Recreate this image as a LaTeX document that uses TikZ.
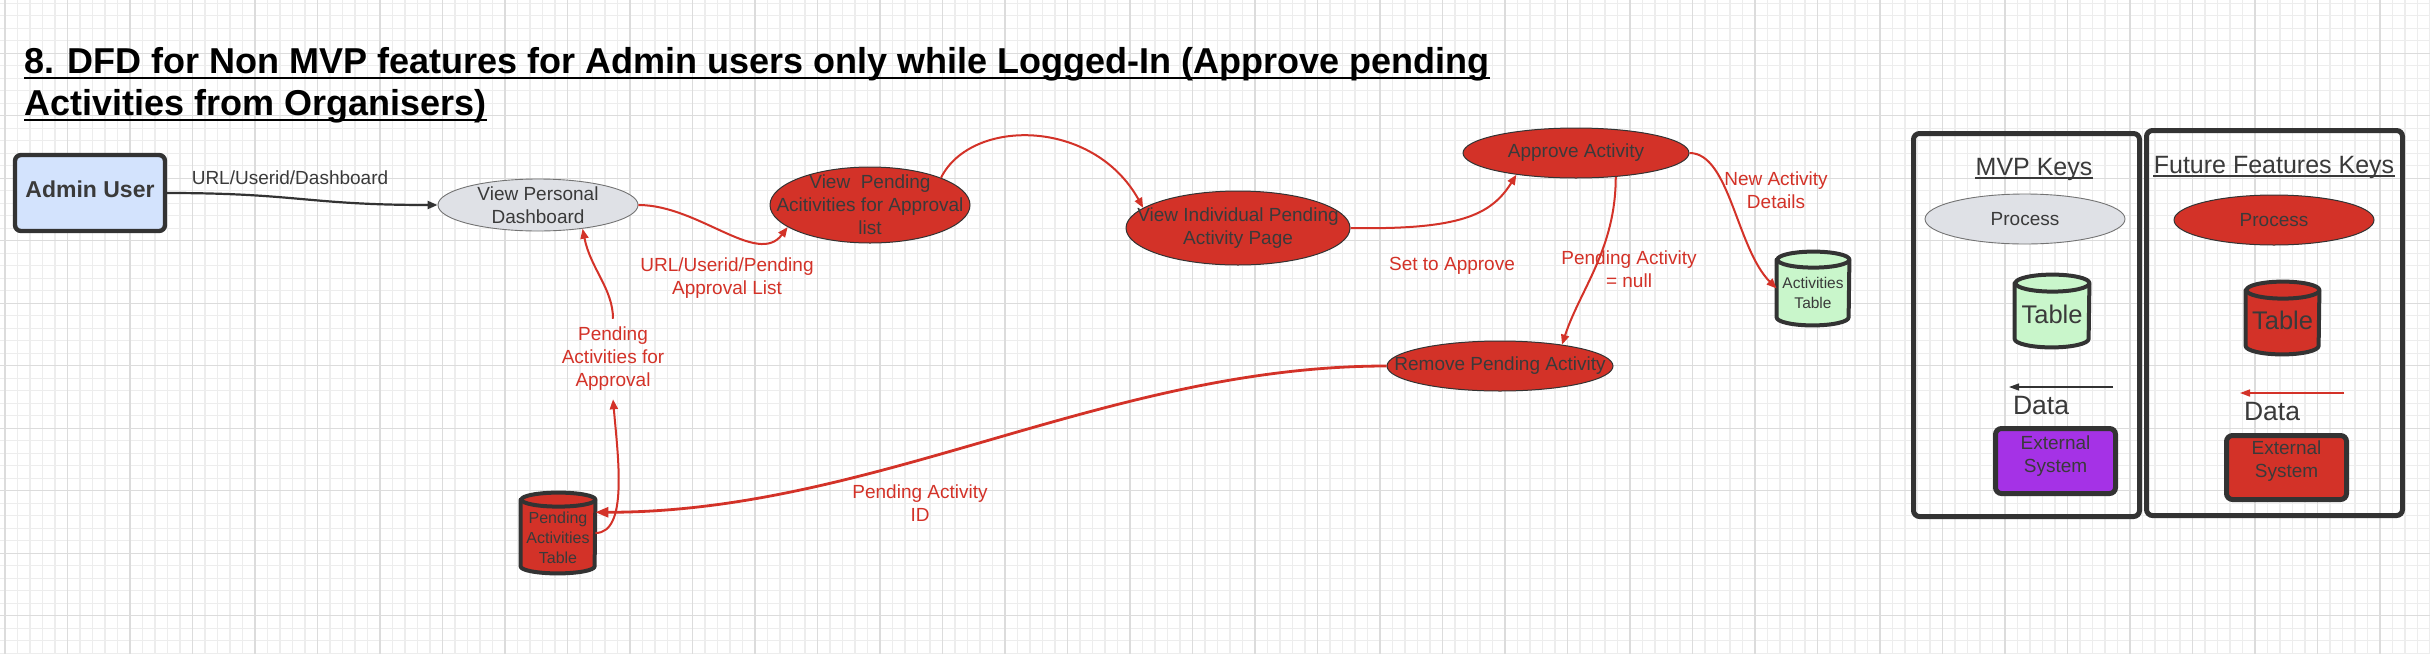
\documentclass[tikz,border=0pt]{standalone}
\usepackage{fontspec}
\setmainfont{Liberation Sans}
\usetikzlibrary{shapes.geometric,arrows.meta}
\definecolor{cRed}{HTML}{D33228}
\definecolor{cGray}{HTML}{DFE1E6}
\definecolor{cGreen}{HTML}{C9F6CB}
\definecolor{cBlue}{HTML}{D3E3FD}
\definecolor{cPurple}{HTML}{A532E6}
\definecolor{cDark}{HTML}{333333}
\definecolor{cText}{HTML}{3A3A3A}
\definecolor{gMinor}{HTML}{EDEDED}
\definecolor{gMajor}{HTML}{DCDCDC}
\newcommand\mycyl[4]{%
  \path[fill=#2,draw=cDark,line width=2pt,line join=round]
    ([yshift=-#4]#1.north west) -- ([yshift=#4]#1.south west)
    arc[start angle=180,end angle=360,x radius=#3,y radius=#4]
    -- ([yshift=-#4]#1.north east)
    arc[start angle=0,end angle=180,x radius=#3,y radius=#4] -- cycle;
  \draw[draw=cDark,line width=2pt]
    ([yshift=-#4]#1.north east)
    arc[start angle=0,end angle=-180,x radius=#3,y radius=#4];
}
\begin{document}
\begin{tikzpicture}[x=0.5pt,y=-0.5pt,
  f19/.style={font=\fontsize{9.5}{11.5}\selectfont},
  ptext/.style={f19,text=cText,align=center,inner sep=0pt},
  rlabel/.style={f19,text=cRed,align=center,inner sep=0pt},
  proc/.style={ellipse,inner sep=0pt,draw=cDark,line width=0.5pt},
  redproc/.style={proc,fill=cRed},
  grayproc/.style={proc,fill=cGray,draw=black!55,line width=0.45pt},
  tablebox/.style={rectangle,draw=none,inner sep=0pt},
  extbox/.style={rectangle,draw=cDark,line width=2.5pt,rounded corners=3pt,inner sep=0pt},
  keybox/.style={rectangle,draw=cDark,line width=2.5pt,rounded corners=3pt,inner sep=0pt},
  redflow/.style={draw=cRed,line width=1pt,-{Triangle[length=5pt,width=4pt]}},
  redthick/.style={draw=cRed,line width=1.4pt,-{Triangle[length=6.5pt,width=5pt]}},
  darkflow/.style={draw=cDark,line width=1.1pt,-{Triangle[length=5pt,width=4pt]}},
  keytitle/.style={anchor=base,inner sep=0pt,text=cText,font=\fontsize{12.5}{15}\selectfont},
  datatext/.style={anchor=base,inner sep=0pt,text=cText,font=\fontsize{13.25}{16}\selectfont},
  titletext/.style={anchor=base west,inner sep=0pt,font=\fontsize{18}{21}\selectfont\bfseries}
]
% background and grid
\fill[white] (0,0) rectangle (2430,654);
\useasboundingbox (0,0) rectangle (2430,654);
\begin{scope}
\clip (0,0) rectangle (2430,654);
\foreach \i in {0,...,194} \draw[gMinor,line width=0.6pt] ({5+12.5*\i},0) -- ({5+12.5*\i},654);
\foreach \j in {0,...,52} \draw[gMinor,line width=0.6pt] (0,{3.2+12.5*\j}) -- (2430,{3.2+12.5*\j});
\foreach \i in {0,...,38} \draw[gMajor,line width=0.7pt] ({5+62.5*\i},0) -- ({5+62.5*\i},654);
\foreach \j in {0,...,9} \draw[gMajor,line width=0.7pt] (0,{53.2+62.5*\j}) -- (2430,{53.2+62.5*\j});
\end{scope}

% title
\node[titletext] (t1) at (24,73) {8. DFD for Non MVP features for Admin users only while Logged-In (Approve pending};
\node[titletext] (t2) at (24,115) {Activities from Organisers)};
\draw[line width=1.3pt] ([yshift=-2.4pt]t1.base west) -- ([yshift=-2.4pt]t1.base east);
\draw[line width=1.3pt] ([yshift=-2.4pt]t2.base west) -- ([yshift=-2.4pt]t2.base east);

% main nodes
\node[rectangle,draw=cDark,fill=cBlue,line width=2.2pt,rounded corners=3pt,minimum width=75pt,minimum height=38pt,inner sep=0pt,
  label={[inner sep=0pt,text=cText,font=\fontsize{11.5}{13}\selectfont\bfseries,yshift=2pt]center:Admin User}] (admin) at (90,193) {};
\node[grayproc,minimum width=100pt,minimum height=26pt,label={[ptext]center:View Personal\\Dashboard}] (vpd) at (538,205) {};
\node[redproc,minimum width=100pt,minimum height=38pt,label={[ptext]center:View\ \ Pending\\Acitivities for Approval\\list}] (vp) at (870,205) {};
\node[redproc,minimum width=112pt,minimum height=37pt,label={[ptext]center:View Individual Pending\\Activity Page}] (vi) at (1238,228) {};
\node[redproc,minimum width=113pt,minimum height=25pt,label={[ptext]center:Approve Activity}] (aa) at (1576,153) {};
\node[redproc,minimum width=113pt,minimum height=25pt,label={[ptext]center:Remove Pending Activity}] (rp) at (1500,366) {};

\node[tablebox,minimum width=37pt,minimum height=40pt] (pat) at (558,533) {};
\mycyl{pat}{cRed}{18.5pt}{3.5pt}
\node[ptext,font=\fontsize{8}{10}\selectfont] (patt) at ([yshift=-2.5pt]pat.center) {Pending\\Activities\\Table};

\node[tablebox,minimum width=36pt,minimum height=36.5pt] (acttab) at (1813,288.5) {};
\mycyl{acttab}{cGreen}{18pt}{4pt}
\node[ptext,font=\fontsize{7.75}{10}\selectfont] (acttabt) at ([yshift=-2.25pt]acttab.center) {Activities\\Table};

% flow labels
\node[ptext] (l1) at (290,178) {URL/Userid/Dashboard};
\node[rlabel] (l2) at (727,278) {URL/Userid/Pending\\Approval List};
\node[rlabel] (l3) at (1452,266) {Set to Approve};
\node[rlabel] (l4) at (1629,269) {Pending Activity\\= null};
\node[rlabel] (l5) at (1776,190) {New Activity\\Details};
\node[rlabel] (l6) at (920,503) {Pending Activity\\ID};
\node[rlabel,inner sep=4pt] (pfa) at (613,359) {Pending\\Activities for\\Approval};

% connectors
\draw[darkflow] (admin.east) .. controls +(130,0) and +(-130,0) .. (vpd.west);
\draw[redflow] (vpd.east) .. controls +(60,0) and +(-30,40) .. (vp.195);
\draw[redflow] (vp.21) .. controls +(30,-60) and +(-50,-90) .. (vi.168);
\draw[redflow] (vi.east) .. controls +(110,2) and +(-25,40) .. (aa.200);
\draw[redflow] (aa.329) .. controls +(0,72) and +(18,-55) .. (rp.19);
\draw[redflow] (aa.east) .. controls +(40,0) and +(-40,-40) .. (acttab.west);
\draw[redthick] (rp.west) .. controls +(-280,0) and +(280,0) .. (pat.29);
\draw[redflow] (pat.east) .. controls +(33,0) and +(5,58) .. (pfa.south);
\draw[redflow] (pfa.north) .. controls +(0,-30) and +(8,40) .. (vpd.332);

% legend
\node[keybox,minimum width=113pt,minimum height=191.5pt] (mvpkey) at (2026.5,325) {};
\node[keybox,minimum width=128pt,minimum height=192.5pt] (ffkey) at (2274.5,323) {};
\node[keytitle] (mvpt) at (2034,175) {MVP Keys};
\node[keytitle] (fft) at (2274,173) {Future Features Keys};
\draw[cText,line width=0.75pt] ([yshift=-1.6pt]mvpt.base west) -- ([yshift=-1.6pt]mvpt.base east);
\draw[cText,line width=0.75pt] ([yshift=-1.6pt]fft.base west) -- ([yshift=-1.6pt]fft.base east);

\node[grayproc,minimum width=100pt,minimum height=25pt,label={[ptext]center:Process}] (mvpproc) at (2025,219) {};
\node[redproc,minimum width=100pt,minimum height=25pt,label={[ptext]center:Process}] (ffproc) at (2274,220) {};

\node[tablebox,minimum width=37pt,minimum height=36pt] (mvptab) at (2052,311) {};
\mycyl{mvptab}{cGreen}{18.5pt}{4.25pt}
\node[ptext,font=\fontsize{12.75}{15}\selectfont] (mvptabt) at ([yshift=-1.5pt]mvptab.center) {Table};
\node[tablebox,minimum width=36.5pt,minimum height=36pt] (fftab) at (2282.5,318) {};
\mycyl{fftab}{cRed}{18.25pt}{4.25pt}
\node[ptext,font=\fontsize{12.75}{15}\selectfont] (fftabt) at ([yshift=-1pt]fftab.center) {Table};

\coordinate (mvpd1) at (2113,387);
\coordinate (mvpd2) at (2009,387);
\draw[draw=cDark,line width=0.6pt,-{Triangle[length=5pt,width=3.5pt]}] (mvpd1) -- (mvpd2);
\node[datatext] (mvpdata) at (2041,414) {Data};
\coordinate (ffd1) at (2344,393);
\coordinate (ffd2) at (2240,393);
\draw[draw=cRed,line width=0.8pt,-{Triangle[length=5pt,width=3.5pt]}] (ffd1) -- (ffd2);
\node[datatext] (ffdata) at (2272,420) {Data};

\node[extbox,fill=cPurple,minimum width=60pt,minimum height=32.5pt,label={[ptext,yshift=2.5pt]center:External\\System}] (mvpext) at (2055.5,461) {};
\node[extbox,fill=cRed,minimum width=60pt,minimum height=32pt,label={[ptext,yshift=3pt]center:External\\System}] (ffext) at (2286.5,467.5) {};
\end{tikzpicture}
\end{document}
